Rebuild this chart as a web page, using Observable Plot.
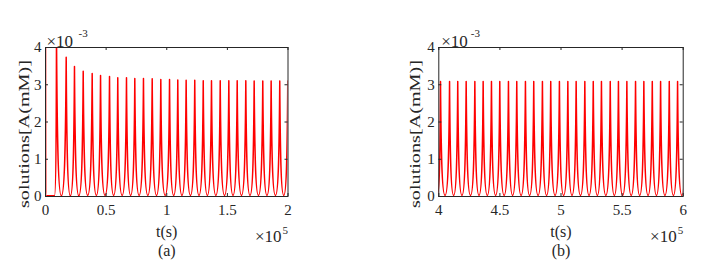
<!DOCTYPE html>
<html><head><meta charset="utf-8">
<script src="https://cdn.jsdelivr.net/npm/d3@7"></script>
<script src="https://cdn.jsdelivr.net/npm/@observablehq/plot@0.6"></script>
<style>
body{margin:0;background:#fff;}
#wrap{display:flex;width:710px;height:262px;overflow:hidden;}
#wrap svg{display:block;flex:none;}
</style></head><body><div id="wrap"></div>
<script>
// values in units of 1e-3 mM, time in s
const yTicks = [0, 1, 2, 3, 4];
const aTicks = [0, 50000, 100000, 150000, 200000];
const bTicks = [400000, 450000, 500000, 550000, 600000];

// panel (a): local maxima (first point = initial value at t=0)
const aPeakT = [0, 9070, 17070, 23900, 31100, 38500, 45400, 52800, 59600, 66800, 73650, 80800, 88000, 95100, 102300, 109100, 116000, 123100, 130100, 136900, 144100, 151200, 158100, 165200, 172100, 179200, 186100, 193200, 199800];
const aPeakV = [4.8, 4.4, 3.74, 3.49, 3.36, 3.30, 3.25, 3.22, 3.19, 3.19, 3.17, 3.17, 3.16, 3.14, 3.14, 3.13, 3.12, 3.12, 3.11, 3.11, 3.11, 3.11, 3.11, 3.11, 3.10, 3.10, 3.10, 3.10, 3.10];
// panel (a): minima
const aTroughT = [800, 7400, 13070, 20500, 27500, 34800, 41950, 49100, 56200, 63200, 70200, 77200, 84400, 91550, 98700, 105700, 112550, 119550, 126600, 133500, 140500, 147650, 154650, 161650, 168650, 175650, 182650, 189650, 196500];
const aTroughV = [0.02, 0.02, 0.02, 0.02, 0.02, 0.03, 0.03, 0.03, 0.03, 0.03, 0.03, 0.03, 0.03, 0.03, 0.03, 0.03, 0.03, 0.03, 0.03, 0.03, 0.03, 0.03, 0.03, 0.03, 0.03, 0.03, 0.03, 0.03, 0.03];

// panel (b)
const bPeakT = [401400, 408800, 415500, 422400, 429500, 436300, 443100, 449900, 457000, 463800, 470900, 477700, 484800, 491600, 498700, 505600, 512400, 519500, 526400, 533100, 540300, 547000, 553900, 561000, 567800, 574700, 581500, 588600, 595400, 602300];
const bPeakV = [3.09, 3.09, 3.09, 3.09, 3.09, 3.09, 3.09, 3.09, 3.09, 3.09, 3.09, 3.09, 3.09, 3.09, 3.09, 3.09, 3.09, 3.09, 3.09, 3.09, 3.09, 3.09, 3.09, 3.09, 3.09, 3.09, 3.09, 3.09, 3.09, 3.09];
const bTroughT = [398800, 405100, 412150, 418950, 425950, 432900, 439700, 446500, 453450, 460400, 467350, 474300, 481250, 488200, 495150, 502150, 509000, 515950, 522950, 529750, 536700, 543650, 550450, 557450, 564400, 571250, 578100, 585050, 592000, 598900];
const bTroughV = [0.03, 0.03, 0.03, 0.03, 0.03, 0.03, 0.03, 0.03, 0.03, 0.03, 0.03, 0.03, 0.03, 0.03, 0.03, 0.03, 0.03, 0.03, 0.03, 0.03, 0.03, 0.03, 0.03, 0.03, 0.03, 0.03, 0.03, 0.03, 0.03, 0.03];

function rows(pt, pv, tt, tv) {
  return [...pt.map((t, i) => ({t, v: pv[i]})), ...tt.map((t, i) => ({t, v: tv[i]}))]
    .sort((p, q) => p.t - q.t);
}

// curve: steep walls and sharp maxima, rounded U-shaped minima
function cusp(context) {
  let x0, y0, n = 0;
  return {
    areaStart() {}, areaEnd() {},
    lineStart() { n = 0; },
    lineEnd() {},
    point(x, y) {
      x = +x; y = +y;
      if (n === 0) context.moveTo(x, y);
      else if (Math.abs(y - y0) < 0.5) context.lineTo(x, y);
      else {
        const dx = x - x0, dy = y - y0;
        let c1x, c1y, c2x, c2y;
        if (y > y0) { // from max down to min
          c1x = x0 + 0.12 * dx; c1y = y0 + 0.6 * dy;
          c2x = x - 0.7 * dx; c2y = y;
        } else { // from min up to max
          c1x = x0 + 0.7 * dx; c1y = y0;
          c2x = x - 0.12 * dx; c2y = y - 0.6 * dy;
        }
        context.bezierCurveTo(c1x, c1y, c2x, c2y, x, y);
      }
      x0 = x; y0 = y; n++;
    }
  };
}

const INK = "#262626";
const FONT = "Liberation Serif";

function panel({data, xDomain, xTicks, letter, mL, mR, ylDx, expDx, supDx}) {
  const W = 355, H = 262, mT = 47, mB = 66;
  const fw = W - mL - mR, fh = H - mT - mB;
  const svg = Plot.plot({
    width: W, height: H,
    marginLeft: mL, marginRight: mR, marginTop: mT, marginBottom: mB,
    style: {fontFamily: FONT, fontSize: "15px", color: INK, background: "white", overflow: "visible"},
    x: {domain: xDomain, label: null},
    y: {domain: [0, 4], label: null},
    marks: [
      Plot.line(data, {x: "t", y: "v", stroke: "#ff0000", strokeWidth: 1.5, curve: cusp, clip: true}),
      Plot.tickY(yTicks, {y: d => d, insetRight: fw - 3, stroke: INK}),
      Plot.tickY(yTicks, {y: d => d, insetLeft: fw - 3, stroke: INK}),
      Plot.tickX(xTicks, {x: d => d, insetTop: fh - 3, stroke: INK}),
      Plot.tickX(xTicks, {x: d => d, insetBottom: fh - 3, stroke: INK}),
      Plot.frame({stroke: INK, strokeWidth: 1}),
      Plot.axisX({ticks: xTicks, tickSize: 0, tickPadding: 8, tickFormat: d => String(d / 1e5), label: null, fontFamily: FONT, fontSize: 15}),
      Plot.axisY({ticks: yTicks, tickSize: 0, tickPadding: 4, tickFormat: d => String(d), label: null, fontFamily: FONT, fontSize: 15}),
      Plot.text(["solutions[A(mM)]"], {text: d => d, frameAnchor: "left", textAnchor: "start", dx: ylDx, dy: 86, rotate: -90, fontSize: 15, fontFamily: FONT, fill: INK}),
      Plot.text(["t(s)"], {text: d => d, frameAnchor: "bottom", dy: 40, fontSize: 16, fontFamily: FONT, fill: INK}),
      Plot.text([letter], {text: d => d, frameAnchor: "bottom", dy: 59, fontSize: 16, fontFamily: FONT, fill: INK}),
      Plot.text(["\u00d710"], {text: d => d, frameAnchor: "top-left", textAnchor: "start", dx: expDx, dy: -13, fontSize: 17, fontFamily: FONT, fill: INK}),
      Plot.text(["-3"], {text: d => d, frameAnchor: "top-left", textAnchor: "start", dx: supDx, dy: -18, fontSize: 11, fontFamily: FONT, fill: INK}),
      Plot.text(["\u00d710"], {text: d => d, frameAnchor: "bottom-right", textAnchor: "end", dx: -6.5, dy: 45, fontSize: 17, fontFamily: FONT, fill: INK}),
      Plot.text(["5"], {text: d => d, frameAnchor: "bottom-right", textAnchor: "end", dx: 0, dy: 37, fontSize: 11, fontFamily: FONT, fill: INK})
    ]
  });
  d3.select(svg).selectAll("text").filter(function() { return this.textContent === "solutions[A(mM)]"; })
    .attr("textLength", 148).attr("lengthAdjust", "spacingAndGlyphs");
  return svg;
}

const wrap = document.getElementById("wrap");
wrap.append(panel({
  data: rows(aPeakT, aPeakV, aTroughT, aTroughV),
  xDomain: [0, 200000], xTicks: aTicks, letter: "(a)",
  mL: 45, mR: 67.5, ylDx: -21.5, expDx: 1, supDx: 33
}));
wrap.append(panel({
  data: rows(bPeakT, bPeakV, bTroughT, bTroughV),
  xDomain: [400000, 600000], xTicks: bTicks, letter: "(b)",
  mL: 83.3, mR: 27.3, ylDx: -23.3, expDx: 2.4, supDx: 32
}));
</script></body></html>
